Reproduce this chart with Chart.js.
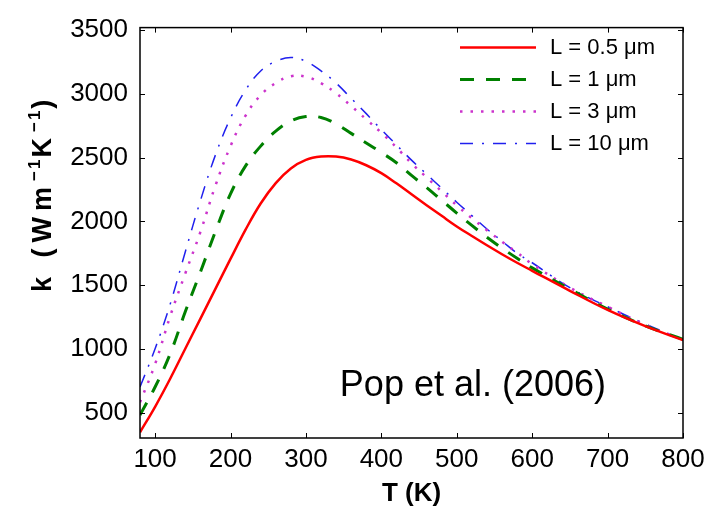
<!DOCTYPE html>
<html>
<head>
<meta charset="utf-8">
<script src="https://cdn.jsdelivr.net/npm/chart.js@4.4.1/dist/chart.umd.min.js"></script>
<style>
    html, body { margin: 0; padding: 0; background: #fff; }
    #wrap { width: 714px; height: 507px; }
</style>
</head>
<body>
<div id="wrap"><canvas id="kChart" width="714" height="507"></canvas></div>
<script>
// Temperature grid (K) and thermal conductivity (W m^-1 K^-1)
var temps = [80, 100, 120, 140, 160, 180, 200, 220, 240, 260, 280, 300, 320, 340, 360, 380, 400, 420, 440, 460, 480, 500, 520, 540, 560, 580, 600, 650, 700, 750, 800];
var kL05 = [345, 545, 765, 1000, 1235, 1470, 1705, 1935, 2140, 2300, 2415, 2482, 2508, 2508, 2485, 2440, 2378, 2298, 2212, 2127, 2043, 1960, 1885, 1812, 1742, 1675, 1612, 1455, 1305, 1178, 1068];
var kL1 = [480, 700, 960, 1290, 1600, 1920, 2215, 2435, 2590, 2708, 2788, 2822, 2815, 2765, 2690, 2615, 2540, 2460, 2360, 2265, 2165, 2065, 1968, 1875, 1790, 1710, 1635, 1468, 1312, 1180, 1075];
var kL3 = [580, 880, 1255, 1590, 1915, 2280, 2590, 2830, 2990, 3085, 3138, 3135, 3085, 3005, 2905, 2800, 2695, 2580, 2455, 2345, 2235, 2125, 2025, 1930, 1840, 1755, 1665, 1480, 1330, 1190, 1070];
var kL10 = [700, 1000, 1350, 1760, 2160, 2520, 2810, 3030, 3180, 3255, 3285, 3255, 3180, 3085, 2965, 2845, 2720, 2600, 2480, 2370, 2260, 2150, 2045, 1940, 1845, 1750, 1675, 1480, 1330, 1195, 1070];
var seriesLabels = ['L = 0.5 \u03bcm', 'L = 1 \u03bcm', 'L = 3 \u03bcm', 'L = 10 \u03bcm'];
var xTicks = [100, 200, 300, 400, 500, 600, 700, 800];
var yTicks = [500, 1000, 1500, 2000, 2500, 3000, 3500];
var noteText = 'Pop et al. (2006)';
var noteT = 345, noteK = 630;

var FONT = "'Liberation Sans', Arial, Helvetica, sans-serif";

function toPoints(vals) {
    return temps.map(function (t, i) { return { x: t, y: vals[i] }; });
}

// Box, inward ticks, legend, note and y title, MATLAB style
var frame = {
    id: 'frame',
    afterDraw: function (chart) {
        var ctx = chart.ctx, a = chart.chartArea;
        var xs = chart.scales.x, ys = chart.scales.y;
        ctx.save();
        ctx.strokeStyle = '#000';
        ctx.lineWidth = 1.5;
        ctx.strokeRect(a.left, a.top, a.right - a.left, a.bottom - a.top);

        ctx.lineWidth = 1;
        ctx.beginPath();
        xTicks.forEach(function (v) {
            var px = Math.round(xs.getPixelForValue(v)) + 0.5;
            ctx.moveTo(px, a.bottom); ctx.lineTo(px, a.bottom - 5);
            ctx.moveTo(px, a.top); ctx.lineTo(px, a.top + 5);
        });
        yTicks.forEach(function (v) {
            var py = Math.round(ys.getPixelForValue(v)) + 0.5;
            ctx.moveTo(a.left, py); ctx.lineTo(a.left + 5, py);
            ctx.moveTo(a.right, py); ctx.lineTo(a.right - 5, py);
        });
        ctx.stroke();

        // legend
        ctx.font = '22px ' + FONT;
        ctx.fillStyle = '#000';
        ctx.textBaseline = 'middle';
        ctx.textAlign = 'left';
        chart.data.datasets.forEach(function (ds, i) {
            var y = a.top + 20 + 32 * i;
            ctx.beginPath();
            ctx.setLineDash(ds.borderDash || []);
            ctx.lineWidth = ds.borderWidth;
            ctx.strokeStyle = ds.borderColor;
            ctx.moveTo(a.right - 223, y);
            ctx.lineTo(a.right - 147, y);
            ctx.stroke();
            ctx.fillText(ds.label, a.right - 133, y);
        });
        ctx.setLineDash([]);

        // note
        ctx.font = '36px ' + FONT;
        ctx.textBaseline = 'alphabetic';
        ctx.fillText(noteText, xs.getPixelForValue(noteT), ys.getPixelForValue(noteK));

        // y title with superscripts
        var parts = [
            { t: 'k (Wm', size: 27, rise: 0, gap: 6 },
            { t: '\u22121', size: 17, rise: 11, gap: 2 },
            { t: 'K', size: 27, rise: 0, gap: 6 },
            { t: '\u22121', size: 17, rise: 11, gap: 2 },
            { t: ')', size: 27, rise: 0, gap: 6 }
        ];
        var total = 0;
        parts.forEach(function (p) {
            ctx.font = 'bold ' + p.size + 'px ' + FONT;
            p.t.split('').forEach(function (c) { total += ctx.measureText(c).width + p.gap; });
        });
        ctx.translate(51, (a.top + a.bottom) / 2 - 40);
        ctx.rotate(-Math.PI / 2);
        var cx = -total / 2;
        parts.forEach(function (p) {
            ctx.font = 'bold ' + p.size + 'px ' + FONT;
            p.t.split('').forEach(function (c) {
                ctx.fillText(c, cx, -p.rise);
                cx += ctx.measureText(c).width + p.gap;
            });
        });
        ctx.restore();
    }
};

function plainTick(v) {
    return String(v);
}

var ctx = document.getElementById('kChart').getContext('2d');
var kChart = new Chart(ctx, {
    type: 'line',
    data: {
        datasets: [{
            label: seriesLabels[0],
            data: toPoints(kL05),
            borderColor: '#ff0000',
            borderWidth: 2.5
        }, {
            label: seriesLabels[1],
            data: toPoints(kL1),
            borderColor: '#008000',
            borderWidth: 3,
            borderDash: [14, 12]
        }, {
            label: seriesLabels[2],
            data: toPoints(kL3),
            borderColor: '#cc33cc',
            borderWidth: 2.5,
            borderDash: [2.5, 8]
        }, {
            label: seriesLabels[3],
            data: toPoints(kL10),
            borderColor: '#2020ee',
            borderWidth: 1.5,
            borderDash: [13, 9, 2, 9]
        }]
    },
    options: {
        responsive: false,
        animation: false,
        devicePixelRatio: 1,
        layout: { padding: { top: 19, right: 31, bottom: 0, left: 0 } },
        elements: {
            point: { radius: 0 },
            line: { tension: 0.4, fill: false }
        },
        plugins: {
            legend: { display: false },
            tooltip: { enabled: false }
        },
        scales: {
            x: {
                type: 'linear',
                min: 80,
                max: 800,
                afterBuildTicks: function (s) {
                    s.ticks = xTicks.map(function (v) { return { value: v }; });
                },
                afterFit: function (s) { s.height = 69; },
                grid: { display: false, drawTicks: false },
                border: { display: false },
                ticks: {
                    padding: 6,
                    color: '#000',
                    maxRotation: 0,
                    autoSkip: false,
                    callback: plainTick,
                    font: { family: FONT, size: 26 }
                },
                title: {
                    display: true,
                    text: 'T (K)',
                    color: '#000',
                    padding: 0,
                    font: { family: FONT, size: 26, weight: 'bold', lineHeight: 1 }
                }
            },
            y: {
                type: 'linear',
                min: 300,
                max: 3520,
                afterBuildTicks: function (s) {
                    s.ticks = yTicks.map(function (v) { return { value: v }; });
                },
                afterFit: function (s) { s.width = 140; },
                grid: { display: false, drawTicks: false },
                border: { display: false },
                ticks: {
                    padding: 12,
                    color: '#000',
                    callback: plainTick,
                    font: { family: FONT, size: 26 }
                }
            }
        }
    },
    plugins: [frame]
});
</script>
</body>
</html>
